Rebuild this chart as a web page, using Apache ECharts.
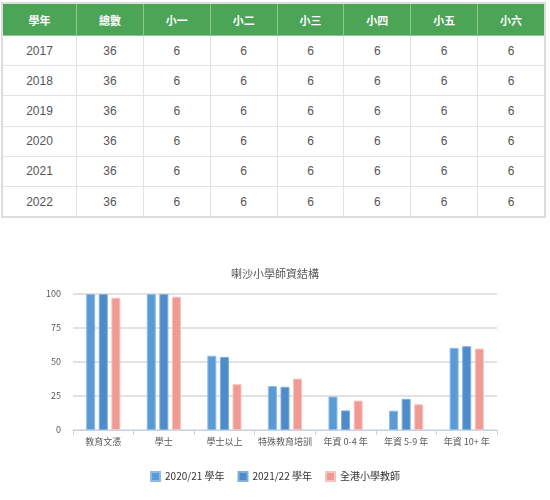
<!DOCTYPE html>
<html>
<head>
<meta charset="utf-8">
<script src="https://cdn.jsdelivr.net/npm/echarts@6/dist/echarts.min.js"></script>
<style>
  html, body { margin: 0; padding: 0; background: #fff; }
  body { width: 550px; height: 500px; position: relative; overflow: hidden; }
  .lt_table {
    position: absolute; left: 1px; top: 2px; width: 545px;
    border-collapse: collapse; border: 2px solid #ddd;
    font-family: "Liberation Sans", Arial, "Noto Sans CJK TC", sans-serif;
  }
  .lt_table th {
    background: #4ca456; color: #fff; font-size: 11px; font-weight: bold;
    height: 31px; padding: 0; border: 1px solid #8cc992;
    font-family: "Noto Sans CJK TC", sans-serif;
  }
  .lt_table td {
    height: 29.2px; padding: 0; text-align: center; font-size: 12px; color: #555;
    border: 1px solid #e3e3e3;
  }
  .lt_bar { position: absolute; left: 0; top: 225px; width: 550px; height: 275px; }
</style>
</head>
<body>
<table class="lt_table"><thead><tr></tr></thead><tbody></tbody></table>
<div class="lt_bar"></div>
<script>
// 表格数据
var tableHead = ['學年', '總數', '小一', '小二', '小三', '小四', '小五', '小六'];
var years = ['2017', '2018', '2019', '2020', '2021', '2022'];
var totals = [36, 36, 36, 36, 36, 36];
var perGrade = [6, 6, 6, 6, 6, 6];

// 图表数据
var categories = ['教育文憑', '學士', '學士以上', '特殊教育培訓', '年資 0-4 年', '年資 5-9 年', '年資 10+ 年'];
var seriesNames = ['2020/21 學年', '2021/22 學年', '全港小學教師'];
var data2021 = [100, 100, 54.6, 32.3, 24.6, 14.2, 60.4];
var data2122 = [100, 100, 53.8, 31.8, 14.4, 22.9, 61.6];
var dataHK = [97.2, 98, 33.7, 37.8, 21.6, 18.9, 59.9];
var yTicks = [0, 25, 50, 75, 100];

// 生成表格
var headRow = document.querySelector('.lt_table thead tr');
tableHead.forEach(function (h, i) {
  var th = document.createElement('th');
  th.textContent = h;
  th.style.width = i === 0 ? '74px' : '67px';
  headRow.appendChild(th);
});
var tbody = document.querySelector('.lt_table tbody');
years.forEach(function (y, i) {
  var tr = document.createElement('tr');
  var cells = [y, totals[i]];
  for (var g = 0; g < 6; g++) cells.push(perGrade[i]);
  cells.forEach(function (c) {
    var td = document.createElement('td');
    td.textContent = c;
    tr.appendChild(td);
  });
  tbody.appendChild(tr);
});

// 柱状图
var myChart = echarts.init(document.querySelector('.lt_bar'));
var font = '"Noto Sans CJK TC", sans-serif';

function barSeries(name, data, color, border) {
  return {
    name: name,
    type: 'bar',
    data: data,
    barWidth: 9,
    barGap: '40%',
    itemStyle: { color: color, borderColor: border, borderWidth: 1 }
  };
}

var option = {
  animation: false,
  title: {
    text: '喇沙小學師資結構',
    left: 'center',
    top: 38,
    textStyle: { color: '#595959', fontSize: 11, fontWeight: 'normal', fontFamily: font }
  },
  legend: {
    data: seriesNames,
    bottom: 13,
    left: 'center',
    itemWidth: 9,
    itemHeight: 9,
    itemGap: 13,
    icon: 'rect',
    textStyle: { color: '#333', fontSize: 10, fontFamily: font }
  },
  grid: { left: 73, right: 53, top: 69, bottom: 70, containLabel: false },
  xAxis: {
    type: 'category',
    data: categories,
    axisLine: { lineStyle: { color: '#c6d4e8', width: 1 } },
    axisTick: { show: true, length: 5, lineStyle: { color: '#c6d4e8' } },
    axisLabel: { color: '#595959', fontSize: 9, fontFamily: font, margin: 7, interval: 0 }
  },
  yAxis: {
    type: 'value',
    min: yTicks[0],
    max: yTicks[yTicks.length - 1],
    interval: 25,
    axisLine: { show: false },
    axisTick: { show: false },
    axisLabel: { color: '#595959', fontSize: 9, fontFamily: font, margin: 12 },
    splitLine: { lineStyle: { color: '#d9d9d9', width: 1.5 } }
  },
  series: [
    barSeries(seriesNames[0], data2021, '#5b9bd5', '#8fbce6'),
    barSeries(seriesNames[1], data2122, '#4d8bca', '#82aedc'),
    barSeries(seriesNames[2], dataHK, '#f09a94', '#f7c3bf')
  ]
};

myChart.setOption(option);
</script>
</body>
</html>
